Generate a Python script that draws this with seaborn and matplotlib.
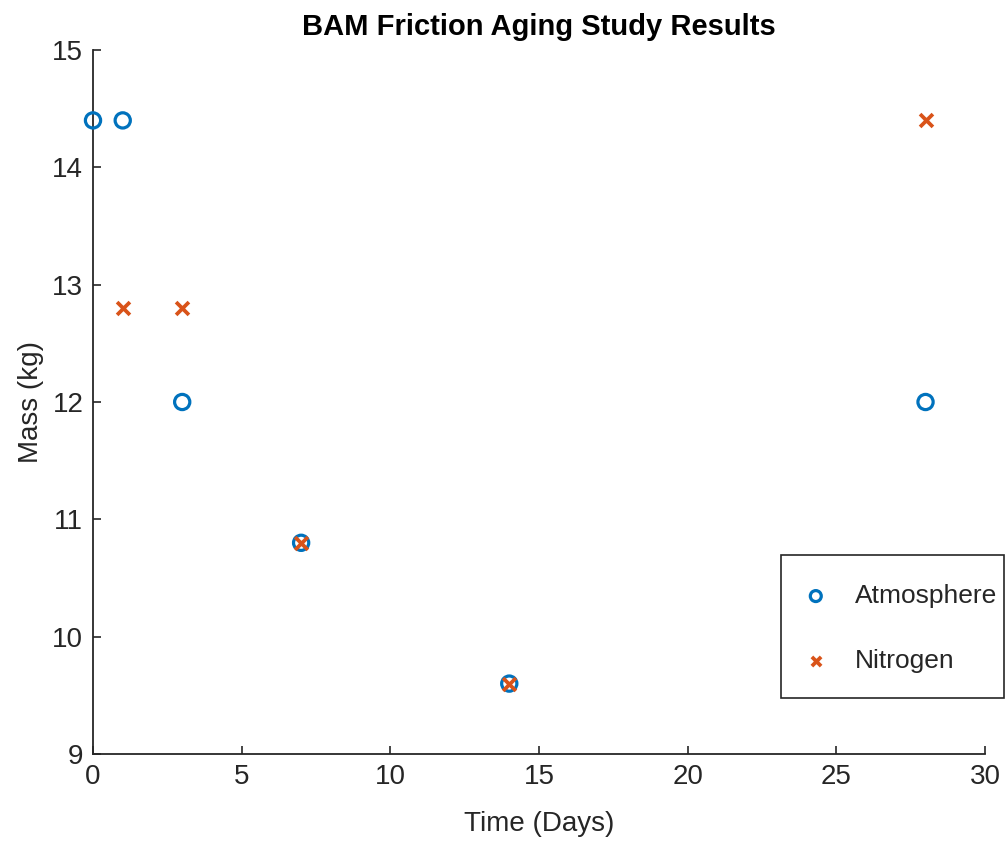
import matplotlib
matplotlib.use("Agg")
import matplotlib.pyplot as plt
from matplotlib.patches import Rectangle
import seaborn as sns
import pandas as pd

atm_days = [0, 1, 3, 7, 14, 28]
atm_mass = [14.4, 14.4, 12.0, 10.8, 9.6, 12.0]
nit_days = [1, 3, 7, 14, 28]
nit_mass = [12.8, 12.8, 10.8, 9.6, 14.4]

sns.set_style("white")
plt.rcParams['font.family'] = ['Liberation Sans', 'DejaVu Sans']

BLUE = "#0072BD"
ORANGE = "#D95319"
DARK = "#262626"
W, H = 1008, 842

fig = plt.figure(figsize=(W/100, H/100), dpi=100)
ax = fig.add_axes([93/W, 1 - 754/H, (985-93)/W, (754-50)/H])

atm = pd.DataFrame({"Time": atm_days, "Mass": atm_mass})
nit = pd.DataFrame({"Time": nit_days, "Mass": nit_mass})

sns.scatterplot(data=atm, x="Time", y="Mass", ax=ax, marker="o", s=120,
                facecolors="none", edgecolor=BLUE, linewidth=2.3,
                label="Atmosphere", clip_on=False, zorder=3)
sns.scatterplot(data=nit, x="Time", y="Mass", ax=ax, marker="x", s=85,
                color=ORANGE, linewidth=2.7, label="Nitrogen",
                clip_on=False, zorder=4)

ax.set_xlim(0, 30)
ax.set_ylim(9, 15)
ax.set_xticks([0, 5, 10, 15, 20, 25, 30])
ax.set_yticks([9, 10, 11, 12, 13, 14, 15])

for s in ["top", "right"]:
    ax.spines[s].set_visible(False)
for s in ["left", "bottom"]:
    ax.spines[s].set_color(DARK)
    ax.spines[s].set_linewidth(1.3)

ax.tick_params(axis="both", direction="in", length=6, width=1.2,
               colors=DARK, labelsize=20, pad=7)
ax.tick_params(axis="x", bottom=True)
ax.tick_params(axis="y", left=True)

ax.set_xlabel("Time (Days)", fontsize=20, color=DARK, labelpad=15)
ax.set_ylabel("Mass (kg)", fontsize=20, color=DARK, labelpad=6)
ax.set_title("BAM Friction Aging Study Results", fontsize=21,
             fontweight="bold", color="black", pad=11)

leg = ax.legend(loc="upper left", bbox_to_anchor=(796/W, 1 - 584/H),
                bbox_transform=fig.transFigure, fontsize=19, frameon=False,
                borderpad=0, labelspacing=1.56, handletextpad=0.72,
                handlelength=1.5, borderaxespad=0, markerscale=0.72)
for t in leg.get_texts():
    t.set_color(DARK)

fig.patches.append(Rectangle((781/W, 1 - 698/H), (1004-781)/W, (698-555)/H,
                             transform=fig.transFigure, fill=False,
                             edgecolor=DARK, linewidth=1.2, zorder=5))

fig.savefig("out.png", dpi=100)
